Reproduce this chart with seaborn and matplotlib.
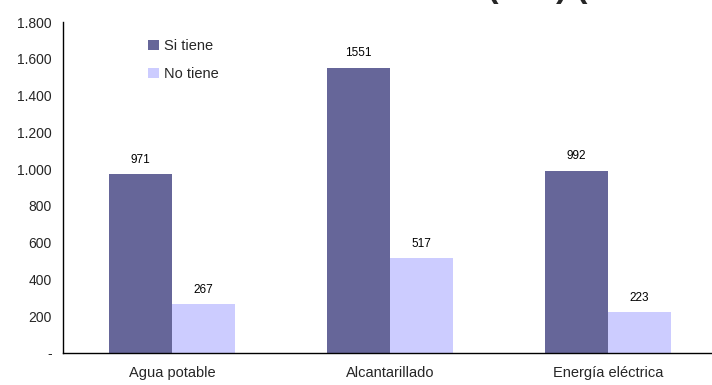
import matplotlib
matplotlib.use("Agg")
import matplotlib.pyplot as plt
import matplotlib.ticker as mticker
import pandas as pd
import seaborn as sns

# Data
servicios = ["Agua potable", "Alcantarillado", "Energía eléctrica"]
si_tiene = [971, 1551, 992]
no_tiene = [267, 517, 223]
series = ["Si tiene", "No tiene"]
colores = ["#666699", "#CCCCFF"]
y_ticks = [0, 200, 400, 600, 800, 1000, 1200, 1400, 1600, 1800]
titulo_inicio = "Servicios básicos "
titulo_fin = "(Nro) (Viviendas)"

df = pd.DataFrame({
    "servicio": servicios * 2,
    "estado": [series[0]] * 3 + [series[1]] * 3,
    "viviendas": si_tiene + no_tiene,
})

sns.set_theme(style="white")
plt.rcParams["font.family"] = ["Liberation Sans", "DejaVu Sans"]

W, H = 712, 385
fig = plt.figure(figsize=(W / 100, H / 100), dpi=100)
ax = fig.add_axes([63 / W, 32 / H, (W - 63) / W, (353 - 22) / H])

sns.barplot(data=df, x="servicio", y="viviendas", hue="estado",
            palette=colores, width=0.58, ax=ax, saturation=1,
            edgecolor="none", linewidth=0)

for cont in ax.containers:
    ax.bar_label(cont, fmt="%d", padding=6, fontsize=8.5, color="black")

ax.set_ylim(0, 1800)
ax.set_xlim(-0.5, 2.477)
ax.set_yticks(y_ticks)
ax.yaxis.set_major_formatter(mticker.FuncFormatter(
    lambda v, p: "-" if v == 0 else f"{int(v):,}".replace(",", ".")))
ax.set_xticks([0, 1, 2])
ax.set_xticklabels(servicios)
ax.set_xticks([-0.5, 0.5, 1.5], minor=True)
ax.tick_params(axis="x", which="major", length=0, pad=9.5, labelsize=10.5)
ax.tick_params(axis="x", which="minor", length=5, width=1, color="black", direction="out")
ax.tick_params(axis="y", length=5, width=1, color="black", direction="out", pad=3, labelsize=10)
ax.set_xlabel("")
ax.set_ylabel("")

for s in ["top", "right"]:
    ax.spines[s].set_visible(False)
for s in ["left", "bottom"]:
    ax.spines[s].set_color("black")
    ax.spines[s].set_linewidth(1)

ax.legend(loc="upper left", bbox_to_anchor=(0.111, 0.988), frameon=False,
          fontsize=10.5, handlelength=0.75, handleheight=0.75, handletextpad=0.35,
          labelspacing=0.95)

# Chart title sitting above the top edge, so only its descenders show
renderer = fig.canvas.get_renderer()
probe = fig.text(0, 0, titulo_inicio, fontsize=24, fontweight="bold")
ancho_inicio = probe.get_window_extent(renderer).width
probe.remove()
fig.text((487 - ancho_inicio) / W, 1 + 3.5 / H, titulo_inicio + titulo_fin,
         ha="left", va="baseline", fontsize=24, fontweight="bold")

fig.savefig("out.png", dpi=100)
